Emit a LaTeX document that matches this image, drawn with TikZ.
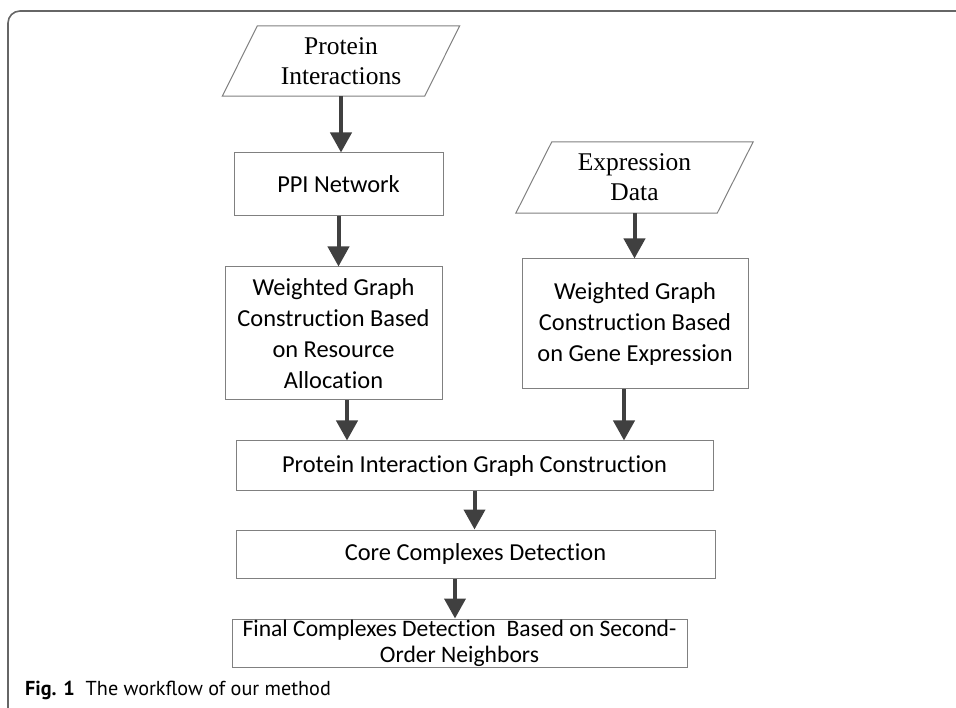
\documentclass[tikz,border=0pt]{standalone}
\usepackage{fontspec}
\setmainfont{Carlito}[Ligatures=NoCommon]
\newfontfamily\serifA{Liberation Serif}
\newfontfamily\capfont{PT Sans}
\usetikzlibrary{arrows.meta,calc}
\definecolor{boxline}{HTML}{808080}
\definecolor{arrowc}{HTML}{404040}
\definecolor{framec}{HTML}{666666}
\tikzset{
  procbox/.style={draw=boxline, line width=1pt, inner sep=0pt, align=center,
    font=\fontsize{24.4}{31}\selectfont},
  iobox/.style={inner sep=0pt, align=center, font=\serifA\fontsize{25.5}{30}\selectfont},
  ioline/.style={draw=boxline, line width=1pt},
  arr/.style={draw=arrowc, line width=4pt, -{Triangle[width=21pt,length=20pt]}},
}
\begin{document}
\begin{tikzpicture}[x=1pt,y=-1pt]
\useasboundingbox (0,0) rectangle (956,708);
% frame
\draw[framec, line width=1.6pt, rounded corners=12pt] (8,720) -- (8,11) -- (970,11);
% input parallelograms
\node[iobox, minimum width=202pt, minimum height=70pt] (pi) at (341,61) {Protein\\Interactions};
\draw[ioline] ([xshift=17.5pt]pi.north west) -- ([xshift=17.5pt]pi.north east)
  -- ([xshift=-17.5pt]pi.south east) -- ([xshift=-17.5pt]pi.south west) -- cycle;
\node[iobox, minimum width=201pt, minimum height=71pt] (ex) at (634.5,177.5) {Expression\\Data};
\draw[ioline] ([xshift=18pt]ex.north west) -- ([xshift=18pt]ex.north east)
  -- ([xshift=-18pt]ex.south east) -- ([xshift=-18pt]ex.south west) -- cycle;
% process boxes
\node[procbox, minimum width=209pt, minimum height=63pt] (ppi) at (338.5,184.5) {PPI Network};
\node[procbox, minimum width=217pt, minimum height=133pt] (wl) at (333.5,333.5)
  {Weighted Graph\\Construction Based\\on Resource\\Allocation};
\node[procbox, minimum width=226pt, minimum height=130pt] (wr) at (635,324)
  {Weighted Graph\\Construction Based\\on Gene Expression};
\node[procbox, minimum width=477pt, minimum height=49pt] (pigc) at (474.5,465.5)
  {Protein Interaction Graph Construction};
\node[procbox, minimum width=479pt, minimum height=48pt] (core) at (475.5,554)
  {Core Complexes Detection};
\node[procbox, minimum width=455pt, minimum height=48pt, font=\fontsize{23.6}{26}\selectfont] (fin) at (459.5,643)
  {Final Complexes Detection\ \ Based on Second-\\Order Neighbors};
% arrows
\draw[arr] (pi.south) -- (pi.south |- ppi.north);
\draw[arr] (ppi.south) -- (ppi.south |- wl.north);
\draw[arr] (ex.south) -- (ex.south |- wr.north);
\draw[arr] ([xshift=13.5pt]wl.south) -- ([xshift=13.5pt]wl.south |- pigc.north);
\draw[arr] ([xshift=-11pt]wr.south) -- ([xshift=-11pt]wr.south |- pigc.north);
\draw[arr] (pigc.south) -- (pigc.south |- core.north);
\draw[arr] ([xshift=-20.5pt]core.south) -- ([xshift=-20.5pt]core.south |- fin.north);
% caption
\node[anchor=base west, inner sep=0pt, font=\capfont\fontsize{20.2}{24}\selectfont] (cap) at (25,695)
  {\textbf{Fig. 1}\ \ The workflow of our method};
\end{tikzpicture}
\end{document}
